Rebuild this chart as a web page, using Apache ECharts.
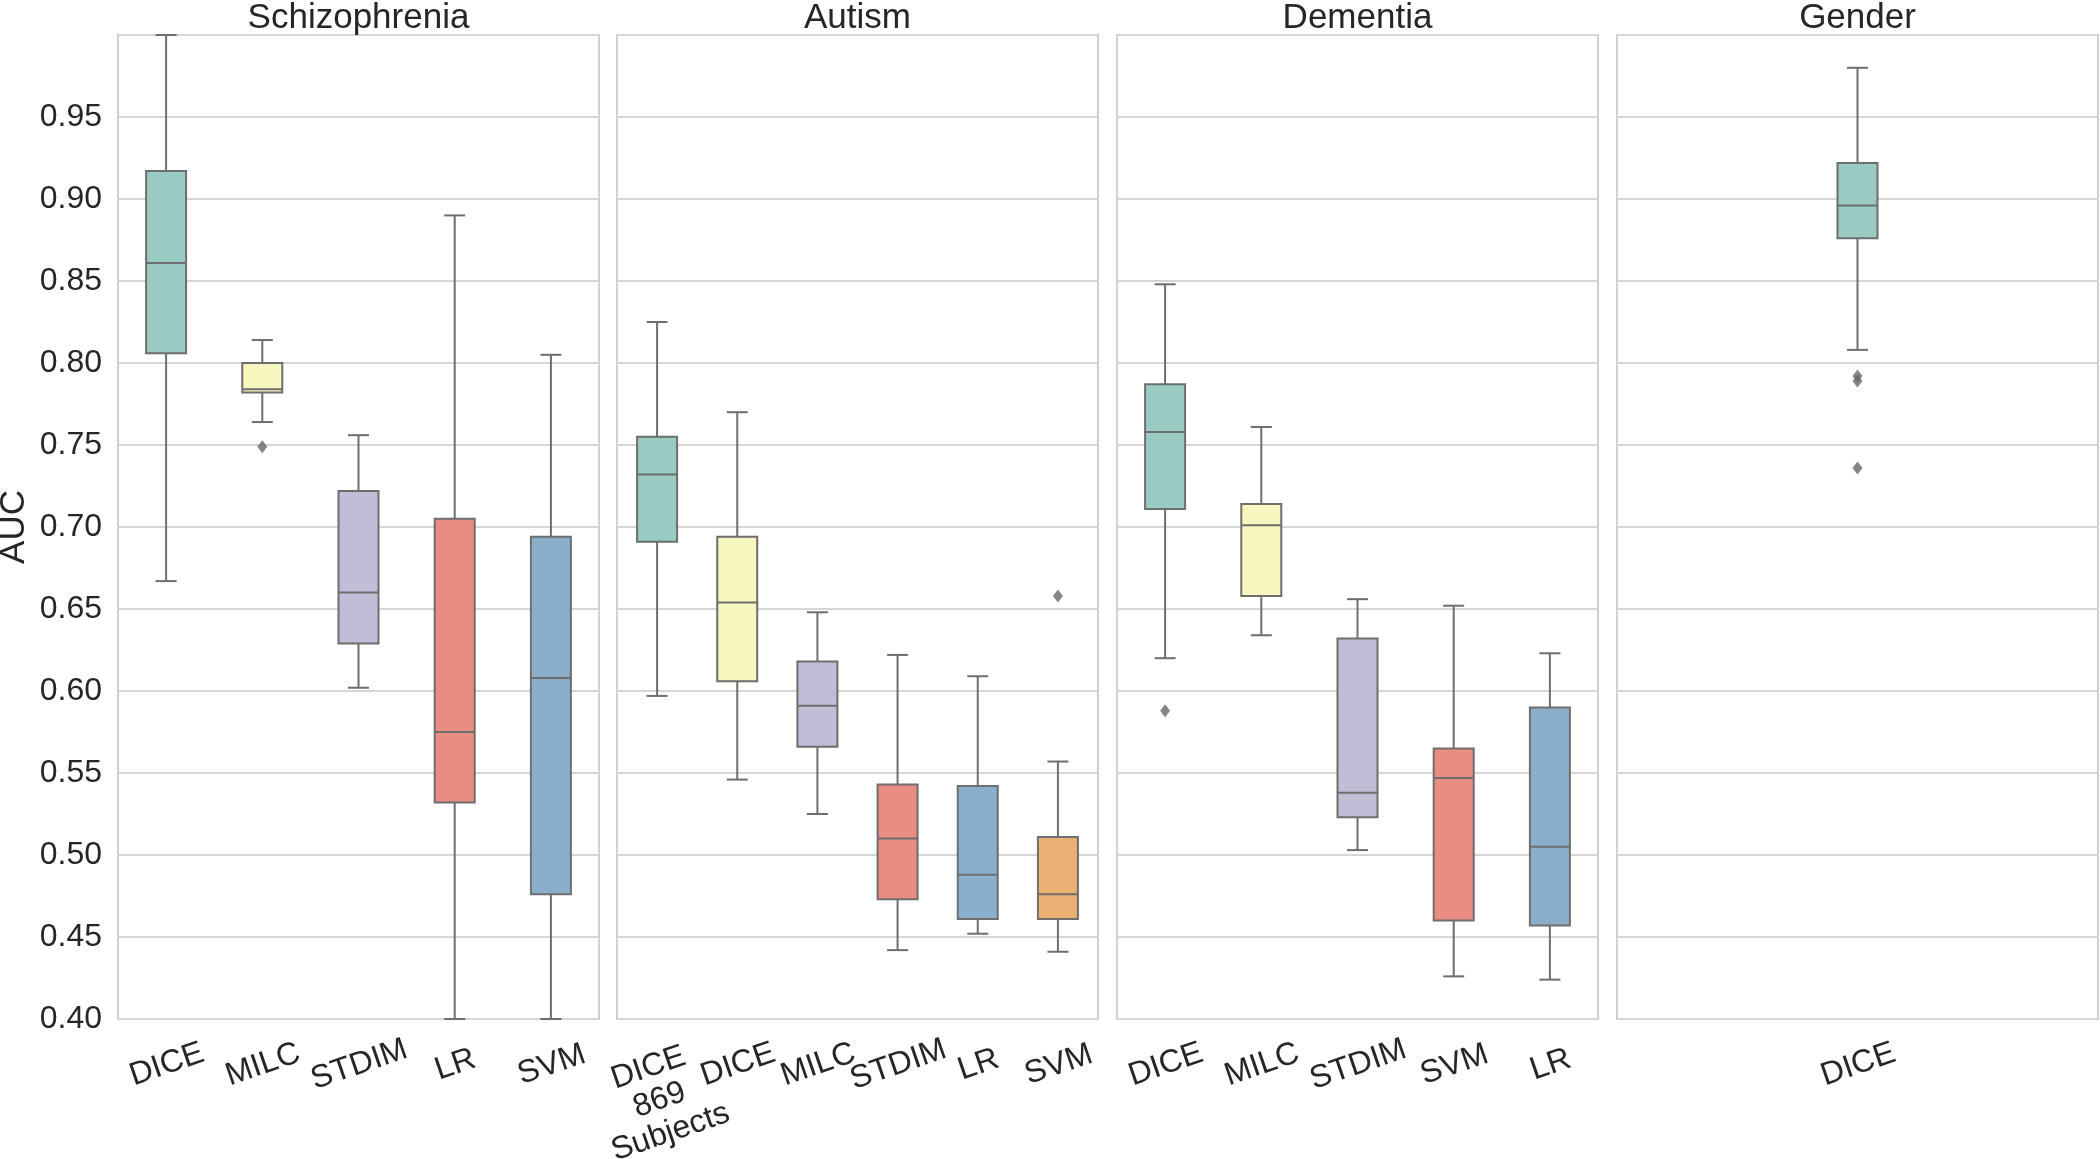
<!DOCTYPE html>
<html>
<head>
<meta charset="utf-8">
<script src="https://cdn.jsdelivr.net/npm/echarts@6/dist/echarts.min.js"></script>
<style>
html,body{margin:0;padding:0;background:#fff;}
#chart{width:2100px;height:1159px;}
</style>
</head>
<body>
<div id="chart"></div>
<script>
// ---- data ----
const panelTitles = ['Schizophrenia', 'Autism', 'Dementia', 'Gender'];
const yMin = 0.40, yMax = 1.00, yStep = 0.05;

const schizCats = ['DICE', 'MILC', 'STDIM', 'LR', 'SVM'];
// [low whisker, Q1, median, Q3, high whisker]
const schizBoxes = [
  [0.667, 0.806, 0.861, 0.917, 1.000],
  [0.764, 0.782, 0.784, 0.800, 0.814],
  [0.602, 0.629, 0.660, 0.722, 0.756],
  [0.400, 0.532, 0.575, 0.705, 0.890],
  [0.400, 0.476, 0.608, 0.694, 0.805]
];
const schizOutliers = [[1, 0.749]];

const autismCats = ['DICE\n869\nSubjects', 'DICE', 'MILC', 'STDIM', 'LR', 'SVM'];
const autismBoxes = [
  [0.597, 0.691, 0.732, 0.755, 0.825],
  [0.546, 0.606, 0.654, 0.694, 0.770],
  [0.525, 0.566, 0.591, 0.618, 0.648],
  [0.442, 0.473, 0.510, 0.543, 0.622],
  [0.452, 0.461, 0.488, 0.542, 0.609],
  [0.441, 0.461, 0.476, 0.511, 0.557]
];
const autismOutliers = [[5, 0.658]];

const dementiaCats = ['DICE', 'MILC', 'STDIM', 'SVM', 'LR'];
const dementiaBoxes = [
  [0.620, 0.711, 0.758, 0.787, 0.848],
  [0.634, 0.658, 0.701, 0.714, 0.761],
  [0.503, 0.523, 0.538, 0.632, 0.656],
  [0.426, 0.460, 0.547, 0.565, 0.652],
  [0.424, 0.457, 0.505, 0.590, 0.623]
];
const dementiaOutliers = [[0, 0.588]];

const genderCats = ['DICE'];
const genderBoxes = [
  [0.808, 0.876, 0.896, 0.922, 0.980]
];
const genderOutliers = [[0, 0.792], [0, 0.789], [0, 0.736]];

// ---- styling ----
const methodColors = {
  teal: '#99cbc3', yellow: '#f6f6be', lavender: '#c0bdd6',
  salmon: '#e98d83', blue: '#8bafca', orange: '#ebb173'
};
const panelColors = [
  [methodColors.teal, methodColors.yellow, methodColors.lavender, methodColors.salmon, methodColors.blue],
  [methodColors.teal, methodColors.yellow, methodColors.lavender, methodColors.salmon, methodColors.blue, methodColors.orange],
  [methodColors.teal, methodColors.yellow, methodColors.lavender, methodColors.salmon, methodColors.blue],
  [methodColors.teal]
];
const panelCats = [schizCats, autismCats, dementiaCats, genderCats];
const panelBoxes = [schizBoxes, autismBoxes, dementiaBoxes, genderBoxes];
const panelOutliers = [schizOutliers, autismOutliers, dementiaOutliers, genderOutliers];

const EDGE = '#6e6e6e';
const TEXT = '#262626';
const FONT = '"Liberation Sans", Arial, Helvetica, sans-serif';
const gridLefts = [118, 617, 1117, 1617];
const gridW = 481;
const gridTop = 35, gridH = 984;
const BOX_W = 40;
const LABEL_ROT = 19;

// category items: right padding recentres the rotated label block on its tick
function catItems(cats) {
  return cats.map(c => {
    const lines = c.split('\n').length;
    return {
      value: c,
      textStyle: {
        align: 'center', verticalAlign: 'top',
        fontFamily: FONT, fontSize: 32, color: TEXT, lineHeight: 34,
        padding: [0, lines > 1 ? 30 : 10, 0, 0]
      }
    };
  });
}

const grids = [], xAxes = [], yAxes = [], series = [], titles = [];
for (let p = 0; p < 4; p++) {
  grids.push({
    left: gridLefts[p], top: gridTop, width: gridW, height: gridH,
    containLabel: false, outerBoundsMode: 'none',
    show: true, borderColor: '#d0d0d0', borderWidth: 2, backgroundColor: '#fff'
  });
  titles.push({
    text: panelTitles[p],
    left: gridLefts[p] + gridW / 2, top: 1, textAlign: 'center', padding: 0,
    textStyle: { fontFamily: FONT, fontSize: 35, fontWeight: 'normal', color: TEXT }
  });
  xAxes.push({
    type: 'category', gridIndex: p, data: catItems(panelCats[p]),
    axisLine: { show: false }, axisTick: { show: false }, splitLine: { show: false },
    axisLabel: {
      rotate: LABEL_ROT, align: 'center', verticalAlign: 'top', margin: 28,
      fontFamily: FONT, fontSize: 32, color: TEXT, lineHeight: 34, interval: 0
    }
  });
  yAxes.push({
    type: 'value', gridIndex: p, min: yMin, max: yMax, interval: yStep,
    name: p === 0 ? 'AUC' : '', nameLocation: 'middle', nameGap: 86,
    nameTextStyle: { fontFamily: FONT, fontSize: 35, color: TEXT },
    axisLine: { show: false }, axisTick: { show: false },
    splitLine: { show: true, lineStyle: { color: '#d5d5d5', width: 2 } },
    axisLabel: {
      show: p === 0, showMaxLabel: false, margin: 16,
      fontFamily: FONT, fontSize: 32, color: TEXT,
      formatter: v => v.toFixed(2)
    }
  });

  const colors = panelColors[p];
  series.push({
    type: 'custom', xAxisIndex: p, yAxisIndex: p,
    data: panelBoxes[p].map((b, i) => [i].concat(b)),
    encode: { x: 0, y: [1, 2, 3, 4, 5] },
    z: 3,
    renderItem: function (params, api) {
      const i = api.value(0);
      const lowP = api.coord([i, api.value(1)]);
      const q1P = api.coord([i, api.value(2)]);
      const medP = api.coord([i, api.value(3)]);
      const q3P = api.coord([i, api.value(4)]);
      const hiP = api.coord([i, api.value(5)]);
      const cx = lowP[0];
      const hw = BOX_W / 2, cw = BOX_W / 4 + 0.5;
      const ls = { stroke: EDGE, lineWidth: 2 };
      return {
        type: 'group',
        children: [
          { type: 'line', shape: { x1: cx, y1: q1P[1], x2: cx, y2: lowP[1] }, style: ls },
          { type: 'line', shape: { x1: cx, y1: q3P[1], x2: cx, y2: hiP[1] }, style: ls },
          { type: 'line', shape: { x1: cx - cw, y1: lowP[1], x2: cx + cw, y2: lowP[1] }, style: ls },
          { type: 'line', shape: { x1: cx - cw, y1: hiP[1], x2: cx + cw, y2: hiP[1] }, style: ls },
          { type: 'rect', shape: { x: cx - hw, y: q3P[1], width: BOX_W, height: q1P[1] - q3P[1] },
            style: { fill: colors[i], stroke: EDGE, lineWidth: 2 } },
          { type: 'line', shape: { x1: cx - hw, y1: medP[1], x2: cx + hw, y2: medP[1] }, style: ls }
        ]
      };
    }
  });
  series.push({
    type: 'scatter', xAxisIndex: p, yAxisIndex: p,
    data: panelOutliers[p],
    symbol: 'diamond', symbolSize: [10, 13], z: 4,
    itemStyle: { color: '#666666' },
    silent: true
  });
}

const chart = echarts.init(document.getElementById('chart'), null, { renderer: 'canvas' });
chart.setOption({
  animation: false,
  backgroundColor: '#ffffff',
  title: titles,
  grid: grids,
  xAxis: xAxes,
  yAxis: yAxes,
  series: series
});
</script>
</body>
</html>
